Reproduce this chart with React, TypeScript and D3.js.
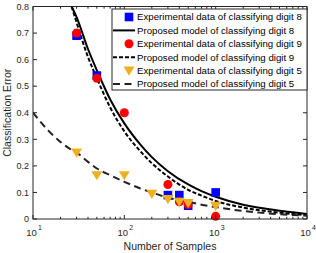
import * as d3 from "d3";

const W = 316;
const H = 253;
const MARGIN = { top: 6.5, right: 9, bottom: 34, left: 33 };

// experimental points
const n8 = [30, 50, 300, 400, 500, 1000];
const e8 = [0.69, 0.54, 0.09, 0.09, 0.05, 0.1];
const n9 = [30, 50, 100, 300, 400, 500, 1000];
const e9 = [0.7, 0.53, 0.4, 0.13, 0.065, 0.055, 0.01];
const n5 = [30, 50, 100, 200, 300, 400, 500, 1000];
const e5 = [0.25, 0.165, 0.165, 0.095, 0.075, 0.065, 0.06, 0.05];

// model curves
const curveN = [10, 15, 20, 26.5, 30, 40, 50, 70, 100, 150, 200, 300, 500, 700, 1000, 2000, 3000, 5000, 7000, 10000];
const model8 = [null, null, null, 0.8, 0.76, 0.64, 0.56, 0.45, 0.36, 0.28, 0.233, 0.18, 0.13, 0.105, 0.084, 0.054, 0.042, 0.031, 0.025, 0.019];
const model9 = [null, null, null, 0.8, 0.74, 0.61, 0.53, 0.42, 0.33, 0.255, 0.21, 0.16, 0.11, 0.088, 0.068, 0.043, 0.033, 0.024, 0.019, 0.015];
const model5 = [0.4, 0.33, 0.29, 0.26, 0.25, 0.215, 0.19, 0.165, 0.14, 0.115, 0.1, 0.08, 0.065, 0.054, 0.045, 0.03, 0.024, 0.018, 0.015, 0.012];

const xTicks = [10, 100, 1000, 10000];
const yTicks = [0, 0.1, 0.2, 0.3, 0.4, 0.5, 0.6, 0.7, 0.8];

const legendLabels = [
  "Experimental data of classifying digit 8",
  "Proposed model of classifying digit 8",
  "Experimental data of classifying digit 9",
  "Proposed model of classifying digit 9",
  "Experimental data of classifying digit 5",
  "Proposed model of classifying digit 5",
];

const AXIS = "#262626";
const YELLOW = "#EDB120";
const FONT = "'Liberation Sans', Arial, sans-serif";

function Square({ x, y }: { x: number; y: number }) {
  return <rect x={x - 4.3} y={y - 4.3} width={8.6} height={8.6} fill="#0000FF" />;
}
function Circle({ x, y }: { x: number; y: number }) {
  return <circle cx={x} cy={y} r={4.5} fill="#FF0000" />;
}
function Tri({ x, y }: { x: number; y: number }) {
  return <path d={`M${x - 5.5},${y - 4}L${x + 5.5},${y - 4}L${x},${y + 5.2}Z`} fill={YELLOW} />;
}

export default function App() {
  const x = d3.scaleLog().domain([10, 10000]).range([MARGIN.left, W - MARGIN.right]);
  const y = d3.scaleLinear().domain([0, 0.8]).range([H - MARGIN.bottom, MARGIN.top]);
  const [x0, x1] = x.range();
  const [y0, y1] = y.range();

  const line = d3
    .line<[number, number | null]>()
    .defined((d) => d[1] !== null)
    .x((d) => x(d[0]))
    .y((d) => y(d[1] as number))
    .curve(d3.curveMonotoneX);

  const minor: number[] = [];
  for (let dec = 10; dec < 10000; dec *= 10) {
    for (let k = 2; k <= 9; k++) minor.push(dec * k);
  }

  const legX = 112;
  const legY = 9;
  const rowH = 13.4;

  return (
    <svg width={W} height={H} style={{ position: "absolute", left: 0, top: 0 }} fontFamily={FONT}>
      <rect width={W} height={H} fill="#fff" />
      <defs>
        <clipPath id="plot">
          <rect x={x0} y={y1} width={x1 - x0} height={y0 - y1} />
        </clipPath>
      </defs>

      <g clipPath="url(#plot)">
        <path d={line(curveN.map((n, i) => [n, model8[i]])) || ""} fill="none" stroke="#000" strokeWidth={2} />
        <path d={line(curveN.map((n, i) => [n, model9[i]])) || ""} fill="none" stroke="#000" strokeWidth={2} strokeDasharray="4,2" />
        <path d={line(curveN.map((n, i) => [n, model5[i]])) || ""} fill="none" stroke="#222" strokeWidth={2} strokeDasharray="7,4.5" />
      </g>

      {n8.map((n, i) => <Square key={"s" + i} x={x(n)} y={y(e8[i])} />)}
      {n9.map((n, i) => <Circle key={"c" + i} x={x(n)} y={y(e9[i])} />)}
      {n5.map((n, i) => <Tri key={"t" + i} x={x(n)} y={y(e5[i])} />)}

      {/* axes box */}
      <rect x={x0} y={y1} width={x1 - x0} height={y0 - y1} fill="none" stroke={AXIS} strokeWidth={1} />
      {xTicks.map((t) => (
        <g key={"xt" + t}>
          <line x1={x(t)} x2={x(t)} y1={y0} y2={y0 - 4} stroke={AXIS} />
          <line x1={x(t)} x2={x(t)} y1={y1} y2={y1 + 4} stroke={AXIS} />
          <text x={x(t) - 1.5} y={y0 + 17} textAnchor="middle" fontSize={9.5} fill={AXIS}>
            10
          </text>
          <text x={x(t) + 5} y={y0 + 11} fontSize={7} fill={AXIS}>
            {Math.round(Math.log10(t))}
          </text>
        </g>
      ))}
      {minor.map((t) => (
        <g key={"xm" + t}>
          <line x1={x(t)} x2={x(t)} y1={y0} y2={y0 - 2.2} stroke={AXIS} />
          <line x1={x(t)} x2={x(t)} y1={y1} y2={y1 + 2.2} stroke={AXIS} />
        </g>
      ))}
      {yTicks.map((t) => (
        <g key={"yt" + t}>
          <line x1={x0} x2={x0 + 4} y1={y(t)} y2={y(t)} stroke={AXIS} />
          <line x1={x1} x2={x1 - 4} y1={y(t)} y2={y(t)} stroke={AXIS} />
          <text x={x0 - 4} y={y(t) + 3.3} textAnchor="end" fontSize={9} fill={AXIS}>
            {t === 0 ? "0" : t.toFixed(1)}
          </text>
        </g>
      ))}
      <text x={(x0 + x1) / 2} y={H - 3} textAnchor="middle" fontSize={10.5} fill={AXIS}>
        Number of Samples
      </text>
      <text transform={`translate(11,${(y0 + y1) / 2}) rotate(-90)`} textAnchor="middle" fontSize={10.5} fill={AXIS}>
        Classification Error
      </text>

      {/* legend */}
      <rect x={legX} y={legY} width={x1 - legX} height={rowH * 6 + 0.6} fill="#fff" stroke={AXIS} strokeWidth={1} />
      {legendLabels.map((lab, i) => {
        const cy = legY + 8 + i * rowH;
        return (
          <g key={"lg" + i}>
            {i === 0 && <Square x={129} y={cy} />}
            {i === 2 && <Circle x={129} y={cy} />}
            {i === 4 && <Tri x={129} y={cy} />}
            {i === 1 && <line x1={113} x2={135} y1={cy} y2={cy} stroke="#000" strokeWidth={2} />}
            {i === 3 && <line x1={113} x2={135} y1={cy} y2={cy} stroke="#000" strokeWidth={2} strokeDasharray="4,2" />}
            {i === 5 && <line x1={113} x2={135} y1={cy} y2={cy} stroke="#222" strokeWidth={2} strokeDasharray="7,4.5" />}
            <text x={137} y={cy + 3.3} fontSize={9.7} fill="#000">
              {lab}
            </text>
          </g>
        );
      })}
    </svg>
  );
}
